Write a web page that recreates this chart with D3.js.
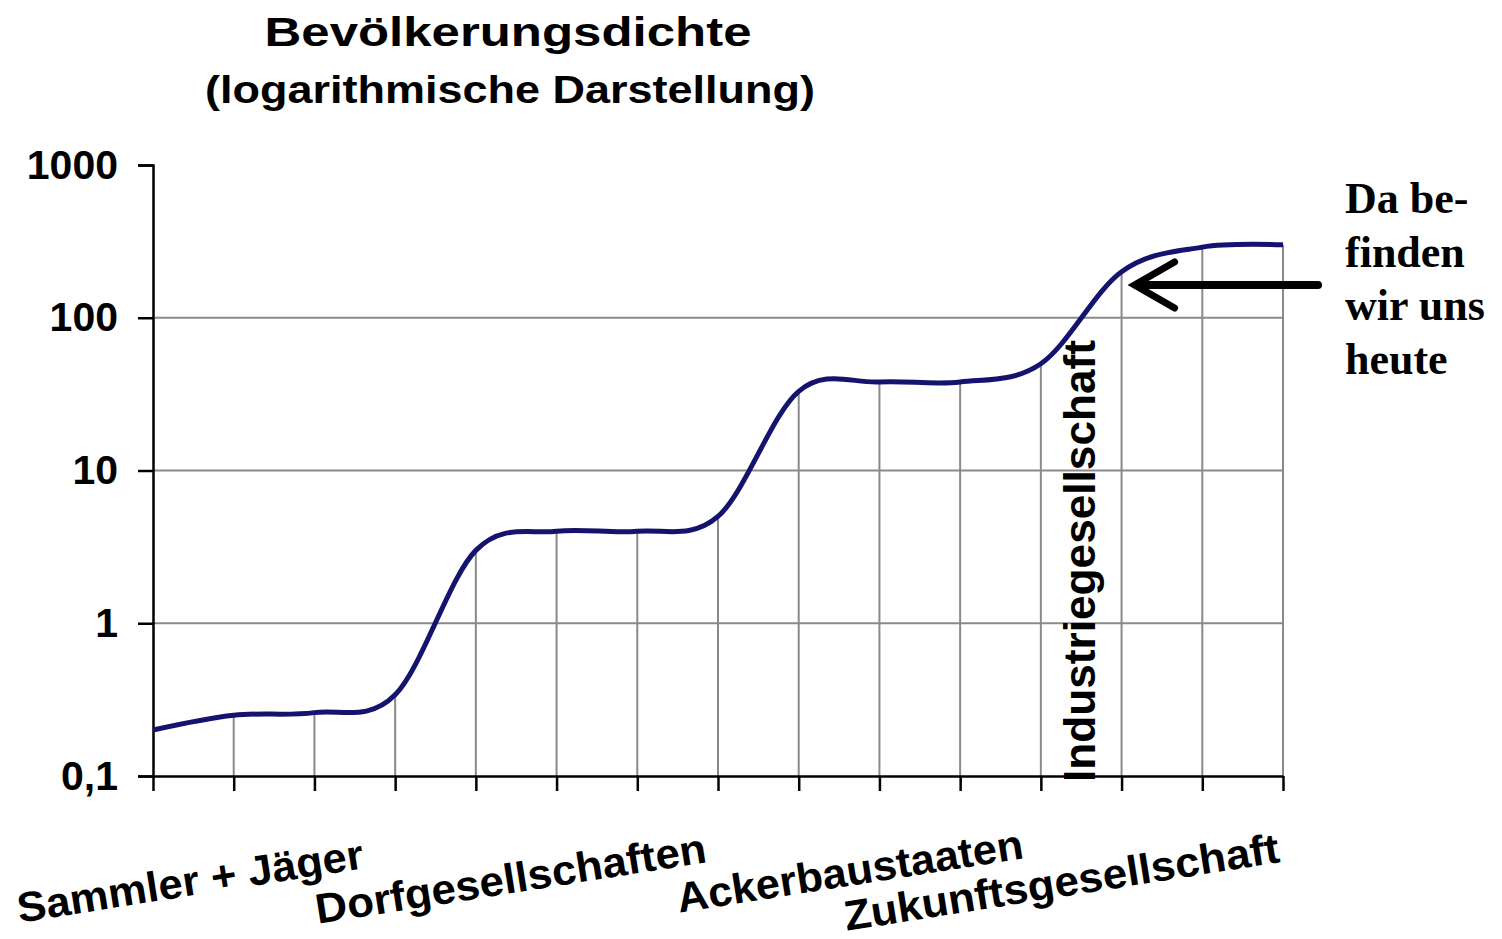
<!DOCTYPE html>
<html>
<head>
<meta charset="utf-8">
<script src="https://cdn.jsdelivr.net/npm/d3@7"></script>
<style>
  html, body { margin: 0; padding: 0; background: #fff; }
  svg { display: block; }
  text { font-family: "Liberation Sans", Arial, sans-serif; font-weight: bold; fill: #000; }
</style>
</head>
<body>
<svg id="chart" width="1502" height="939"></svg>
<script>
// Bevölkerungsdichte, log scale, 15 category steps
var steps = d3.range(15);
var density = [0.2, 0.25, 0.26, 0.34, 3.0, 4.0, 4.0, 5.0, 33, 38, 38, 50, 200, 290, 300];
var yTicks = [0.1, 1, 10, 100, 1000];
var yTickLabels = ["0,1", "1", "10", "100", "1000"];
var gridValues = [1, 10, 100];
var categoryLabels = [
    { step: 3, text: "Sammler + Jäger" },
    { step: 7, text: "Dorfgesellschaften" },
    { step: 11, text: "Ackerbaustaaten" },
    { step: 14, text: "Zukunftsgesellschaft" }
];
var industryStep = 11.5;
var industryLabel = "Industriegesellschaft";
var noteLines = ["Da be-", "finden", "wir uns", "heute"];
var noteStep = 12;

var svg = d3.select('#chart');

var x = d3.scaleLinear()
    .domain([0, 14])
    .range([153, 1283]);

var y = d3.scaleLog()
    .domain([0.1, 1000])
    .range([776, 165]);

// title
svg.append('text')
    .attr('x', 508)
    .attr('y', 46)
    .attr('text-anchor', 'middle')
    .style('font-size', '40px')
    .attr('textLength', 487)
    .attr('lengthAdjust', 'spacingAndGlyphs')
    .text('Bevölkerungsdichte');

svg.append('text')
    .attr('x', 510)
    .attr('y', 103)
    .attr('text-anchor', 'middle')
    .style('font-size', '38px')
    .attr('textLength', 610)
    .attr('lengthAdjust', 'spacingAndGlyphs')
    .text('(logarithmische Darstellung)');

// horizontal grid
svg.append('g')
    .selectAll('line')
    .data(gridValues)
    .enter().append('line')
    .attr('x1', x(0))
    .attr('x2', x(14))
    .attr('y1', function(d) { return y(d); })
    .attr('y2', function(d) { return y(d); })
    .attr('stroke', '#8a8a8a')
    .attr('stroke-width', 2);

// drop lines from curve to axis
svg.append('g')
    .selectAll('line')
    .data(steps.slice(1))
    .enter().append('line')
    .attr('x1', function(d) { return x(d); })
    .attr('x2', function(d) { return x(d); })
    .attr('y1', function(d) { return y(density[d]); })
    .attr('y2', y(0.1))
    .attr('stroke', '#8a8a8a')
    .attr('stroke-width', 2);

// axes
var yAxis = d3.axisLeft(y)
    .tickValues(yTicks)
    .tickSize(15)
    .tickPadding(20)
    .tickFormat(function(d, i) { return yTickLabels[i]; });

var gy = svg.append('g')
    .attr('transform', 'translate(' + x(0) + ',0)')
    .call(yAxis);
gy.select('.domain').attr('stroke', '#000').attr('stroke-width', 2.5);
gy.selectAll('.tick line').attr('stroke', '#000').attr('stroke-width', 2.5);
gy.selectAll('.tick text')
    .style('font-size', '41px')
    .style('font-family', '"Liberation Sans", Arial, sans-serif')
    .style('font-weight', 'bold')
    .attr('fill', '#000');

var xAxis = d3.axisBottom(x)
    .tickValues(steps)
    .tickSize(15)
    .tickSizeOuter(0)
    .tickFormat('');

var gx = svg.append('g')
    .attr('transform', 'translate(0,' + y(0.1) + ')')
    .call(xAxis);
gx.select('.domain').attr('stroke', '#000').attr('stroke-width', 2.5);
gx.selectAll('.tick line').attr('stroke', '#000').attr('stroke-width', 2.5);

// density curve
var line = d3.line()
    .x(function(d, i) { return x(i); })
    .y(function(d) { return y(d); })
    .curve(d3.curveCardinal.tension(0));

svg.append('path')
    .datum(density)
    .attr('d', line)
    .attr('fill', 'none')
    .attr('stroke', '#14146e')
    .attr('stroke-width', 5)
    .attr('stroke-linejoin', 'round');

// slanted category labels
var nudge = { 3: [-30, 92], 7: [-10, 86], 11: [-16, 82], 14: [-2, 86] };
var widths = { 3: 350, 7: 395, 11: 350, 14: 440 };

svg.append('g')
    .selectAll('text')
    .data(categoryLabels)
    .enter().append('text')
    .attr('transform', function(d) {
        var n = nudge[d.step];
        return 'translate(' + (x(d.step) + n[0]) + ',' + (y(0.1) + n[1]) + ') rotate(-9)';
    })
    .attr('text-anchor', 'end')
    .style('font-size', '42px')
    .attr('textLength', function(d) { return widths[d.step]; })
    .attr('lengthAdjust', 'spacingAndGlyphs')
    .text(function(d) { return d.text; });

// vertical Industriegesellschaft label
svg.append('text')
    .attr('transform', 'translate(' + (x(industryStep) + 14) + ',' + (y(0.1) + 6) + ') rotate(-90)')
    .style('font-size', '44px')
    .attr('textLength', 442)
    .attr('lengthAdjust', 'spacingAndGlyphs')
    .text(industryLabel);

// arrow pointing at today
var ay = 285;
var tipX = x(noteStep) + 13;
var arrow = svg.append('g')
    .attr('stroke', '#000')
    .attr('fill', 'none')
    .attr('stroke-linecap', 'round');
arrow.append('line')
    .attr('x1', tipX + 4)
    .attr('x2', 1318)
    .attr('y1', ay)
    .attr('y2', ay)
    .attr('stroke-width', 8);
arrow.append('path')
    .attr('d', 'M' + (tipX + 40) + ',' + (ay - 23) + 'L' + tipX + ',' + ay + 'L' + (tipX + 40) + ',' + (ay + 23))
    .attr('stroke-width', 7)
    .attr('stroke-linejoin', 'miter');

// note text
svg.append('g')
    .selectAll('text')
    .data(noteLines)
    .enter().append('text')
    .attr('x', 1345)
    .attr('y', function(d, i) { return 213 + i * 53.5; })
    .style('font-family', '"Liberation Serif", "Times New Roman", serif')
    .style('font-weight', 'bold')
    .style('font-size', '44px')
    .text(function(d) { return d; });
</script>
</body>
</html>
